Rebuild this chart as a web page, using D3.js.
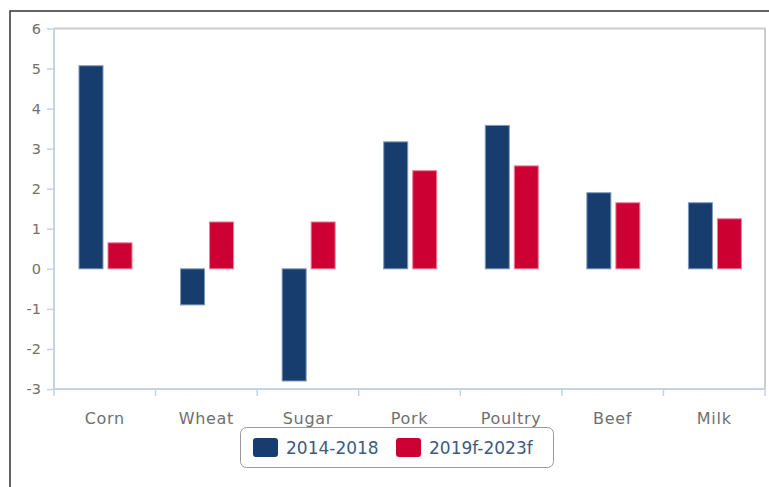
<!DOCTYPE html>
<html><head><meta charset="utf-8">
<script src="https://cdn.jsdelivr.net/npm/d3@7"></script>
<style>body{margin:0;background:#fff;} svg{display:block;font-family:"DejaVu Sans",sans-serif;}</style>
</head><body>
<script>
const categories = ["Corn","Wheat","Sugar","Pork","Poultry","Beef","Milk"];
const seriesNames = ["2014-2018","2019f-2023f"];
const values2014_2018 = [5.07,-0.9,-2.8,3.17,3.58,1.9,1.65];
const values2019_2023 = [0.65,1.17,1.17,2.45,2.57,1.65,1.25];
const yTicks = [-3,-2,-1,0,1,2,3,4,5,6];
const colors = ["#173d6f","#cc0033"];

const W=769,H=487;
const svg=d3.select("body").append("svg").attr("width",W).attr("height",H);
const L=54,R=765,T=28.5,B=389;
const x=d3.scaleBand().domain(categories).range([L,R]);
const y=d3.scaleLinear().domain([-3,6]).range([B,T]);

// outer frame
svg.append("path").attr("d",`M10,${H} L10,11 L${W},11`).attr("fill","none").attr("stroke","#333").attr("stroke-width",1.5);

// plot border top/right
svg.append("path").attr("d",`M${L},${T} L${R},${T} L${R},${B}`).attr("fill","none").attr("stroke","#cccccc").attr("stroke-width",2);

// y axis
const ya=svg.append("g").attr("transform",`translate(${L},0)`)
 .call(d3.axisLeft(y).tickValues(yTicks).tickSize(7).tickPadding(6).tickFormat(d=>String(d)));
ya.select(".domain").attr("stroke","#c5d3e3").attr("stroke-width",2).attr("d",`M0,${T}V${B}`);
ya.selectAll(".tick line").attr("stroke","#c5d3e3").attr("stroke-width",1.5);
ya.selectAll(".tick text").attr("fill","#707070").style("font-size","14.5px").style("font-family","DejaVu Sans");

// x axis
const xa=svg.append("g").attr("transform",`translate(0,${B})`)
 .call(d3.axisBottom(x).tickSize(0).tickPadding(23.5));
xa.select(".domain").attr("stroke","#c5d3e3").attr("stroke-width",2).attr("d",`M${L},0H${R}`);
xa.selectAll(".tick text").attr("fill","#707070").style("font-size","16px").style("letter-spacing","0.7px").style("font-family","DejaVu Sans");
// boundary ticks
const bounds=categories.map(c=>x(c)).concat([R]);
xa.selectAll(".bt").data(bounds).enter().append("line").attr("class","bt")
 .attr("x1",d=>d).attr("x2",d=>d).attr("y1",0).attr("y2",7).attr("stroke","#c5d3e3").attr("stroke-width",1.5);

// bars
const bw=x.bandwidth();
const inner=d3.scaleBand().domain([0,1]).range([bw*25/101.57,bw*78/101.57]).paddingInner(0.172);
const series=[values2014_2018,values2019_2023];
series.forEach((vals,si)=>{
  svg.append("g").selectAll("rect").data(vals).enter().append("rect")
   .attr("x",(d,i)=>x(categories[i])+inner(si))
   .attr("width",inner.bandwidth())
   .attr("y",d=>y(Math.max(0,d)))
   .attr("height",d=>Math.abs(y(d)-y(0)))
   .attr("fill",colors[si])
   .attr("stroke",si===0?"#7f98bb":"#ee7f99").attr("stroke-width",1);
});

// legend
const lg=svg.append("g");
lg.append("rect").attr("x",240.5).attr("y",427.5).attr("width",313).attr("height",40).attr("rx",6)
 .attr("fill","#fff").attr("stroke","#999").attr("stroke-width",1);
const items=[{x:253,tx:286},{x:396,tx:429}];
seriesNames.forEach((n,i)=>{
  lg.append("rect").attr("x",items[i].x).attr("y",438).attr("width",25).attr("height",19).attr("rx",3).attr("fill",colors[i]);
  lg.append("text").attr("x",items[i].tx).attr("y",454).text(n).attr("fill","#3d5a80").style("font-size","17px");
});
</script>
</body></html>
